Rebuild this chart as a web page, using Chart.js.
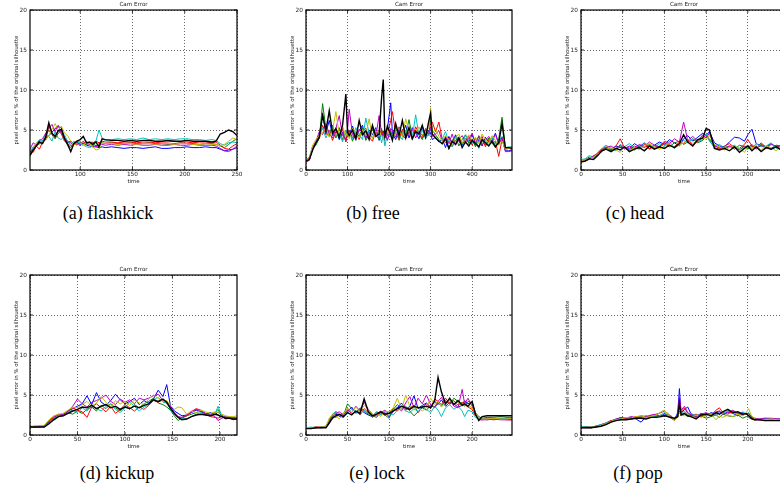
<!DOCTYPE html>
<html>
<head>
<meta charset="utf-8">
<script src="https://cdn.jsdelivr.net/npm/chart.js@4.4.1/dist/chart.umd.min.js"></script>
<style>
  html, body { margin: 0; padding: 0; background: #fff; }
  body { width: 780px; height: 498px; position: relative; overflow: hidden; }
  canvas { position: absolute; }
  .cap { position: absolute; transform: translate(-50%, -50%); white-space: nowrap;
         font-family: "Liberation Serif", "DejaVu Serif", serif; font-size: 18px; color: #000; }
</style>
</head>
<body>
<canvas id="pa" width="267" height="186" style="left:0px;top:0px"></canvas>
<canvas id="pb" width="266" height="186" style="left:276px;top:0px"></canvas>
<canvas id="pc" width="266" height="186" style="left:551px;top:0px"></canvas>
<canvas id="pd" width="267" height="186" style="left:0px;top:265px"></canvas>
<canvas id="pe" width="266" height="186" style="left:276px;top:265px"></canvas>
<canvas id="pf" width="266" height="186" style="left:551px;top:265px"></canvas>
<div class="cap" style="left:108px;top:213px">(a) flashkick</div>
<div class="cap" style="left:373px;top:213px">(b) free</div>
<div class="cap" style="left:635px;top:213px">(c) head</div>
<div class="cap" style="left:117px;top:473px">(d) kickup</div>
<div class="cap" style="left:377px;top:473px">(e) lock</div>
<div class="cap" style="left:638px;top:473px">(f) pop</div>
<script>
// ---- data (time -> pixel error %) ----

// (a) flashkick
const timeA = [52,55,58,61,64,67,70,73,76,79,82,85,88,91,94,97,100,103,106,109,112,115,118,121,124,130,136,142,148,154,160,166,172,178,184,190,196,202,208,214,220,226,230,234,238,242,246,250];
const blueA = [2.2,2.7,3.2,3.5,3.4,3.9,4.3,4.7,5.2,5.4,5.3,4.1,3.4,3.6,3.3,3.4,3.2,3.3,3.1,3.0,2.9,2.9,2.8,2.9,2.8,2.9,2.8,2.7,2.8,2.8,2.7,2.8,2.9,2.7,2.7,2.8,2.8,2.9,2.8,2.8,2.9,2.8,2.8,2.6,2.4,2.5,2.6,2.8];
const greenA = [1.7,2.4,3.0,3.3,3.6,4.2,5.0,4.4,3.9,4.6,4.9,4.0,3.1,2.8,3.4,3.6,3.3,3.6,3.2,3.4,3.5,3.0,3.3,3.4,3.3,3.4,3.3,3.3,3.4,3.3,3.3,3.4,3.3,3.3,3.2,3.3,3.4,3.3,3.3,3.2,3.3,3.3,3.2,3.0,2.8,3.2,3.6,3.9];
const redA = [2.4,2.2,3.0,2.6,3.5,3.8,5.5,4.6,4.0,5.0,4.5,3.6,3.3,3.0,3.4,3.1,3.5,3.3,3.6,3.2,3.4,3.6,3.4,3.6,3.5,3.5,3.4,3.5,3.5,3.4,3.5,3.5,3.4,3.5,3.5,3.6,3.5,3.5,3.4,3.5,3.5,3.4,3.5,3.1,2.7,2.6,3.0,3.3];
const cyanA = [2.3,2.9,3.3,3.8,3.6,4.5,4.2,3.6,4.8,4.0,3.8,4.4,3.5,3.2,3.6,3.3,3.6,3.1,2.9,2.8,3.0,3.6,5.0,4.0,3.7,3.8,3.9,3.8,3.9,3.8,4.0,3.8,3.9,3.8,3.9,3.8,3.9,3.9,3.8,3.8,3.7,3.8,3.7,3.3,3.1,3.4,3.5,3.4];
const magentaA = [2.6,3.4,3.1,3.7,3.9,4.6,5.2,5.7,4.8,5.6,4.6,4.0,3.6,3.4,3.2,3.5,3.0,3.4,3.3,3.2,3.1,2.9,3.1,3.2,3.1,3.2,3.1,3.2,3.1,3.2,3.1,3.1,3.2,3.1,3.1,3.2,3.1,3.1,3.2,3.1,3.1,3.1,3.0,2.7,2.4,2.3,2.6,3.0];
const yellowA = [2.1,2.6,3.4,3.2,3.5,3.7,4.3,5.1,5.8,5.0,5.5,4.6,4.3,3.6,3.1,3.7,3.4,3.0,3.5,3.3,2.9,2.5,2.6,3.4,3.3,3.3,3.2,3.3,3.3,3.2,3.3,3.3,3.2,3.3,3.3,3.2,3.3,3.3,3.2,3.2,3.3,3.2,3.2,3.0,3.2,3.6,4.0,3.8];
const blackA = [1.9,2.5,3.0,3.5,3.3,4.1,5.9,4.6,4.2,4.9,5.1,3.9,3.2,2.3,3.3,3.6,3.8,4.2,3.4,3.5,3.2,3.5,2.9,3.9,3.8,3.7,3.7,3.6,3.7,3.6,3.7,3.7,3.6,3.6,3.7,3.6,3.6,3.7,3.6,3.6,3.6,3.5,3.6,4.5,4.7,5.0,4.8,4.3];

// (b) free
const timeB = [0,8,16,24,32,40,48,56,64,72,80,88,96,100,104,112,120,128,136,144,152,160,168,176,182,186,190,196,204,208,216,224,232,240,248,256,264,272,280,288,296,300,304,312,320,328,336,344,352,360,368,376,384,392,400,408,416,424,432,440,448,456,464,472,480,488,496];
const blueB = [1.1,1.3,2.6,3.3,4.2,7.1,4.6,6.2,4.3,5.1,3.8,4.7,3.6,5.2,4.4,5.5,4.1,4.9,5.6,3.9,5.0,4.4,5.3,3.7,4.5,4.9,4.0,5.1,8.4,4.6,3.8,5.2,4.3,5.6,4.0,5.3,4.7,3.9,5.4,4.2,5.0,4.6,3.8,4.1,3.5,3.9,2.8,4.2,3.3,4.4,3.6,3.1,4.0,3.4,4.5,3.2,3.8,3.0,4.1,3.5,3.7,4.6,3.3,4.0,2.4,2.4,2.5];
const greenB = [1.2,1.4,2.9,3.1,4.0,8.3,5.1,4.2,5.6,4.0,5.3,3.8,4.6,4.1,5.0,3.6,4.8,4.2,5.3,3.7,4.4,5.1,4.3,3.9,5.2,4.1,4.6,3.8,4.9,4.2,5.5,3.7,4.8,4.4,6.3,4.1,5.0,4.5,3.8,4.9,4.3,6.4,5.0,4.4,3.8,3.2,4.1,2.6,3.7,4.2,3.0,3.8,4.4,3.3,3.9,2.9,4.3,3.6,3.1,4.0,3.4,2.8,3.9,6.6,2.7,2.8,2.9];
const redB = [1.1,1.5,2.7,3.5,3.9,5.6,4.4,5.0,3.7,4.8,4.3,5.2,3.5,4.5,5.0,4.0,4.7,3.8,4.9,5.2,4.1,3.6,4.8,4.4,5.0,4.2,4.8,4.3,6.2,7.3,4.5,3.9,5.1,4.2,4.8,3.8,5.4,4.6,4.0,5.2,4.7,5.8,6.0,4.8,6.0,3.8,3.4,4.0,2.9,3.7,4.1,3.3,3.6,4.2,3.1,3.9,3.5,4.2,2.9,3.8,3.3,3.6,1.7,3.8,2.6,2.7,2.6];
const cyanB = [1.3,1.6,3.0,3.2,4.5,5.2,4.0,4.9,5.4,4.2,4.7,3.5,5.0,4.3,4.6,3.9,5.3,4.5,3.8,6.5,4.6,4.0,5.1,4.8,3.4,4.4,3.0,4.6,4.1,3.9,4.9,4.4,3.8,5.0,4.5,4.1,6.9,4.3,5.0,3.9,4.6,5.2,4.4,4.0,3.6,3.9,4.8,3.5,2.9,4.1,3.7,3.2,4.4,3.6,3.4,4.0,2.7,3.9,3.5,3.2,4.1,3.0,3.6,4.2,2.8,2.9,2.8];
const magentaB = [1.0,1.2,2.8,3.6,4.8,4.4,5.8,4.5,4.0,5.2,6.8,4.3,3.9,5.0,7.6,4.4,3.8,5.1,4.7,4.0,4.6,5.3,4.2,6.8,4.6,4.3,4.8,3.7,5.2,4.9,4.1,5.4,4.4,3.9,4.7,5.1,4.0,4.8,4.3,5.0,4.5,5.4,4.2,4.5,4.9,3.6,4.2,3.3,4.5,3.1,3.8,4.3,3.5,3.9,4.6,3.4,4.2,3.1,3.7,4.2,3.5,4.5,3.2,4.1,2.3,2.3,2.4];
const yellowB = [1.2,1.4,3.1,3.8,4.3,4.7,5.3,4.1,5.0,7.3,4.4,5.5,4.2,4.8,3.9,5.2,4.6,4.0,5.0,4.4,6.4,3.9,4.7,5.0,4.2,3.9,4.5,5.0,4.4,4.0,4.7,5.2,4.1,6.4,4.9,4.3,4.7,5.4,4.4,4.8,5.3,7.8,4.6,5.1,4.2,3.7,4.3,3.8,3.2,4.0,4.5,3.4,3.9,4.4,3.6,4.1,3.3,4.5,3.8,3.4,4.3,3.7,3.1,3.6,2.6,2.7,2.7];
const blackB = [1.1,1.3,2.5,3.4,4.1,6.8,4.9,7.4,4.6,5.2,4.1,5.6,9.5,4.7,4.3,5.0,3.9,6.2,4.4,4.9,3.8,5.6,4.2,4.5,9.0,11.3,4.2,5.5,4.4,3.7,5.8,4.3,6.2,4.0,5.3,3.9,4.8,4.5,5.6,4.1,6.2,7.1,4.5,4.0,3.6,3.3,3.9,2.7,3.6,3.2,4.0,2.8,3.5,3.0,3.7,3.3,2.9,3.8,3.4,3.0,3.6,2.9,3.4,5.8,2.8,2.8,2.7];

// (c) head
const timeC = [0,5,10,15,20,25,30,36,42,47,52,58,64,70,76,82,88,94,100,106,112,118,123,128,134,140,146,150,154,160,166,172,178,184,190,196,200,205,210,216,222,228,234,240,247];
const blueC = [1.1,1.3,1.6,1.5,2.0,2.4,2.7,2.6,3.0,2.8,2.9,2.6,3.3,2.9,3.4,2.7,3.1,3.5,3.2,3.8,3.4,3.0,3.9,4.3,3.6,4.1,4.6,4.3,4.8,3.4,3.0,2.9,3.5,4.1,4.0,3.6,4.4,5.1,3.3,3.0,2.9,3.3,2.8,3.1,3.0];
const greenC = [1.0,1.2,1.5,1.7,1.9,2.5,2.8,2.4,2.7,3.0,2.6,2.9,2.5,3.1,2.8,3.2,2.7,3.0,3.3,2.9,3.4,3.6,3.2,3.5,3.9,3.4,3.7,4.2,3.9,3.1,2.7,2.8,3.0,2.6,3.1,2.9,2.6,3.0,2.8,3.2,2.9,2.7,3.1,3.0,3.3];
const redC = [1.2,1.1,1.4,1.7,2.1,2.6,2.9,2.5,3.0,3.9,2.8,2.5,3.0,2.7,3.2,2.6,3.0,2.8,3.4,3.1,2.9,3.5,3.3,3.8,3.1,3.6,4.0,4.4,3.7,2.8,2.6,3.0,3.3,2.8,2.7,3.2,3.8,3.0,2.7,3.4,2.8,2.6,3.0,2.9,3.1];
const cyanC = [1.3,1.4,1.8,1.6,2.2,2.7,3.1,2.7,2.4,3.2,2.9,3.3,2.8,2.6,3.4,3.0,2.8,3.3,2.9,3.6,2.7,3.2,3.7,3.4,3.9,3.5,3.8,4.5,3.6,2.9,3.2,2.7,2.9,3.1,2.6,2.8,3.1,2.7,3.3,2.9,3.0,3.4,2.7,3.0,2.8];
const magentaC = [1.0,1.2,1.4,1.8,2.0,2.3,2.8,3.0,2.6,3.1,2.7,3.0,2.7,3.2,2.9,3.5,3.1,2.9,3.6,3.3,3.9,3.5,6.0,3.7,4.2,3.6,4.4,4.0,4.6,3.0,2.8,2.6,3.0,2.8,2.5,3.0,2.8,3.2,2.6,3.1,2.7,3.2,3.0,2.6,2.9];
const yellowC = [1.1,1.3,1.5,1.6,2.0,2.3,2.6,2.8,2.5,2.2,2.9,2.4,2.8,2.6,3.0,3.3,2.9,2.6,3.0,3.4,2.8,3.1,3.4,3.9,3.3,3.7,4.1,3.8,4.3,3.2,2.9,2.5,2.8,3.0,2.7,2.2,2.9,2.6,3.1,2.5,3.0,2.8,2.4,2.9,3.0];
const blackC = [1.0,1.1,1.4,1.3,1.8,2.4,2.6,2.3,2.7,2.5,2.9,2.3,2.6,2.8,2.4,3.0,2.6,2.9,2.7,3.1,2.8,3.3,4.4,3.5,3.0,3.8,4.0,5.2,5.0,2.7,2.5,2.7,2.4,2.9,2.2,2.7,3.0,2.4,2.9,2.3,2.8,2.6,2.9,2.5,2.8];

// (d) kickup
const timeD = [0,5,10,15,20,25,30,35,40,45,50,55,60,65,70,75,80,85,90,95,100,105,110,115,120,125,130,135,140,144,148,152,156,160,165,170,175,180,185,190,195,198,202,206,210,214,218];
const blueD = [1.0,1.0,1.1,1.1,1.6,2.0,2.4,2.6,3.0,3.3,3.6,3.9,4.9,3.8,5.3,4.1,3.7,4.3,5.1,4.4,3.9,4.2,4.6,3.8,4.3,4.0,4.5,5.6,4.8,6.3,3.6,3.0,2.7,2.4,2.5,2.8,3.1,2.9,2.6,2.8,2.5,2.9,2.4,2.2,2.1,2.2,2.1];
const greenD = [1.0,1.1,1.0,1.1,1.5,2.1,2.3,2.5,2.8,2.6,3.0,2.7,3.2,3.5,3.0,3.7,3.3,3.9,3.4,3.0,3.6,3.2,3.8,3.4,3.9,4.2,4.6,4.0,3.8,3.5,3.1,2.4,1.8,2.2,2.4,2.6,2.8,3.0,2.7,2.5,2.8,3.2,2.4,2.3,2.2,2.2,2.2];
const redD = [1.1,1.0,1.0,1.2,1.7,2.2,2.5,2.4,2.9,3.4,3.1,2.9,2.2,3.5,3.9,3.4,2.9,3.6,2.7,3.2,3.8,3.4,3.0,3.5,3.2,3.7,4.3,4.1,4.4,3.9,3.4,2.6,2.2,2.1,2.4,2.9,3.3,3.1,2.6,2.3,2.2,2.1,2.3,2.0,2.1,1.9,2.0];
const cyanD = [1.0,1.1,1.1,1.0,1.5,2.0,2.4,2.7,2.9,3.1,2.8,3.4,3.0,3.7,3.3,3.0,3.6,3.9,3.2,2.8,3.4,4.1,3.6,3.0,3.5,3.8,4.4,4.7,4.1,4.0,3.2,2.5,2.3,2.1,2.0,2.3,2.6,2.8,2.5,2.4,2.6,3.6,2.4,2.2,2.3,2.1,2.2];
const magentaD = [1.1,1.0,1.1,1.1,1.8,2.3,2.6,2.5,3.0,3.6,4.5,3.9,3.5,4.1,4.3,4.6,5.0,4.2,3.8,4.5,4.1,4.4,3.9,4.6,4.4,4.6,4.9,5.1,4.3,4.2,3.5,2.8,2.3,2.2,2.5,2.9,3.2,3.0,2.7,2.6,2.3,1.8,2.1,2.3,2.2,2.1,2.1];
const yellowD = [1.1,1.1,1.2,1.2,1.9,2.4,2.6,2.7,3.1,3.5,3.4,3.8,4.2,3.6,4.0,4.8,4.1,3.5,4.3,3.9,4.2,3.7,4.4,4.0,3.8,4.5,5.0,4.6,4.2,4.3,3.7,3.2,3.5,3.4,2.6,3.0,2.8,3.1,2.9,2.7,2.9,2.8,2.6,2.4,2.3,2.3,2.4];
const blackD = [1.0,1.0,1.0,1.0,1.4,1.9,2.3,2.4,2.7,3.0,3.2,3.5,3.4,3.7,3.3,3.6,3.8,3.4,3.6,3.2,3.5,3.3,3.6,3.4,3.7,3.9,4.4,4.2,4.5,4.1,3.3,2.7,2.2,1.9,2.0,2.3,2.5,2.6,2.5,2.4,2.6,2.5,2.3,2.1,2.1,2.0,2.0];

// (e) lock
const timeE = [0,6,12,18,24,28,32,36,40,45,50,55,60,65,70,75,80,85,90,95,100,105,110,115,120,125,130,135,140,145,150,155,159,163,168,173,178,183,188,191,195,200,204,208,212,218,226,234,242,248];
const blueE = [0.9,0.9,0.9,1.0,1.0,1.7,2.3,2.6,2.4,2.2,2.9,3.5,2.7,3.2,2.8,2.5,2.3,2.9,2.6,2.8,2.3,2.9,3.4,4.0,3.2,3.6,4.9,3.3,3.7,4.0,3.5,4.2,3.8,4.4,3.6,4.1,3.9,3.5,3.7,4.3,3.9,4.1,2.6,2.1,2.0,2.0,2.0,2.1,2.0,2.0];
const greenE = [0.9,0.9,1.0,0.9,1.0,1.8,2.4,2.2,2.6,2.4,3.9,3.3,2.8,3.4,3.0,2.6,2.4,2.2,2.9,2.5,2.1,3.2,3.8,3.3,3.6,3.0,2.4,2.9,3.4,3.1,3.7,3.4,4.0,3.6,4.3,3.8,4.6,4.2,3.9,3.6,4.2,4.0,2.8,2.3,2.1,2.2,2.2,2.3,2.2,2.2];
const redE = [0.9,0.9,1.0,1.0,1.1,1.9,2.6,2.8,2.3,2.7,3.3,2.6,3.0,2.5,3.3,2.8,2.2,2.6,3.0,2.4,2.8,3.3,3.0,3.6,3.1,3.4,3.7,2.8,3.5,3.9,3.3,4.5,4.2,3.8,4.6,3.9,4.3,3.7,4.1,3.8,3.5,3.2,2.4,2.0,1.9,2.0,1.9,2.0,1.9,1.9];
const cyanE = [0.9,1.0,0.9,1.0,1.0,2.0,2.5,3.0,2.5,2.3,2.7,3.2,2.9,2.6,3.1,2.7,2.4,2.8,2.5,3.0,2.7,2.5,3.1,3.5,3.0,2.8,3.3,2.9,3.6,3.2,2.8,3.6,3.1,2.3,3.4,3.8,3.2,3.6,3.0,2.3,3.1,2.9,2.2,2.0,2.0,1.9,2.0,2.0,2.1,2.0];
const magentaE = [0.8,0.9,0.9,0.9,1.0,1.6,2.2,2.7,2.9,2.5,3.1,2.8,3.6,3.0,4.1,3.2,2.6,2.4,2.8,3.1,2.6,2.9,3.5,3.0,4.0,4.8,3.4,4.6,3.9,5.0,3.8,3.5,4.2,4.7,3.9,4.4,3.6,3.4,5.7,3.9,4.6,3.6,2.5,1.9,1.9,1.9,2.0,1.9,1.9,1.9];
const yellowE = [0.9,0.9,0.9,1.0,1.0,2.1,2.6,2.4,2.0,2.6,3.4,2.8,3.5,2.9,3.7,3.2,2.5,2.7,2.3,3.0,2.9,3.4,4.6,3.2,5.0,3.6,3.1,3.5,3.0,3.4,4.6,3.8,4.2,3.5,4.0,4.5,3.8,4.1,3.6,4.0,3.7,3.4,2.7,2.1,2.0,2.0,2.1,2.0,2.0,2.1];
const blackE = [0.8,0.8,0.9,0.9,0.9,1.5,2.1,2.4,2.6,2.3,2.8,2.5,3.0,2.7,4.5,2.9,2.4,2.6,2.9,2.6,2.7,3.0,3.3,3.6,3.4,3.2,3.6,3.4,3.5,3.6,3.4,4.3,7.2,5.4,3.9,4.6,3.8,4.3,3.7,3.9,3.6,4.2,2.6,1.8,2.3,2.4,2.4,2.4,2.4,2.4];

// (f) pop
const timeF = [0,6,12,18,24,30,36,42,48,54,60,66,72,78,84,90,96,100,104,108,112,116,118,120,124,128,132,138,144,150,156,162,166,170,176,182,188,194,198,201,204,208,214,220,228,236,247];
const blueF = [1.0,1.0,0.9,1.1,1.3,1.5,1.8,1.9,2.1,2.0,2.2,2.0,1.6,2.3,2.2,2.5,2.4,2.6,2.3,2.1,1.9,2.8,5.8,2.7,3.2,3.5,2.6,2.3,2.7,2.4,2.8,2.6,3.0,2.5,2.9,2.7,2.4,2.8,2.6,2.4,2.2,2.0,1.9,2.0,1.9,2.0,1.9];
const greenF = [0.9,1.0,1.0,1.0,1.2,1.4,1.7,2.0,1.9,2.1,2.2,2.1,2.3,2.2,2.4,2.3,2.5,2.4,2.6,2.3,2.0,2.2,3.0,2.4,2.6,2.3,2.5,2.2,2.4,2.1,2.3,2.5,2.2,2.6,2.4,2.3,2.5,2.1,2.3,2.2,2.0,1.9,2.0,1.9,2.0,1.9,1.9];
const redF = [1.0,1.0,1.0,1.1,1.2,1.5,1.8,1.9,2.2,2.0,2.1,2.3,2.2,2.4,2.2,2.6,2.3,2.7,2.4,2.2,1.8,2.4,3.6,2.9,3.4,2.7,2.4,2.6,2.3,2.7,2.5,3.1,3.4,2.8,2.6,3.0,2.7,2.5,2.7,2.5,2.1,1.9,1.9,1.9,1.9,2.0,1.9];
const cyanF = [1.1,1.0,1.0,1.1,1.3,1.5,1.7,2.0,2.1,2.2,2.0,2.1,2.3,2.1,2.4,2.2,2.5,2.8,2.5,2.4,2.0,2.5,3.5,2.6,3.0,2.5,2.7,2.4,2.6,2.5,2.7,2.4,2.8,2.6,3.1,2.8,2.6,2.9,2.6,2.8,2.3,2.1,2.0,2.1,2.0,2.0,2.0];
const magentaF = [0.9,0.9,0.9,1.0,1.2,1.4,1.6,2.0,2.2,2.1,2.3,2.2,2.4,2.3,2.5,2.6,2.8,3.0,2.7,2.3,1.9,2.6,4.8,3.1,3.6,2.8,2.5,2.3,2.6,2.8,2.5,2.9,3.0,2.6,2.8,3.1,2.7,2.5,2.6,2.7,2.3,2.1,2.0,2.1,2.1,2.0,2.0];
const yellowF = [1.0,0.9,1.0,1.0,1.2,1.4,1.7,1.9,2.0,2.2,2.1,2.3,2.4,2.2,2.3,2.5,2.9,3.1,2.6,2.2,1.8,2.3,2.8,2.5,2.4,2.6,2.2,2.5,2.2,2.4,2.6,1.9,2.4,2.2,2.5,2.3,2.6,2.4,2.8,3.3,2.5,2.0,1.9,1.9,2.0,1.9,1.9];
const blackF = [0.9,0.9,0.9,1.0,1.1,1.3,1.6,1.8,1.9,1.9,2.0,2.1,2.1,2.0,2.2,2.2,2.3,2.4,2.3,2.2,2.1,2.3,4.0,2.5,2.7,2.4,2.3,2.0,2.5,2.6,2.4,2.8,2.6,2.9,3.2,2.8,2.9,2.6,2.7,2.4,2.1,1.9,1.9,1.8,1.8,1.8,1.8];

// axis ticks
const yTicks = [0, 5, 10, 15, 20];
const xTicksA = [100, 150, 200, 250];
const xTicksB = [0, 100, 200, 300, 400];
const xTicks50 = [0, 50, 100, 150, 200];

// matplotlib "classic" colour cycle b g r c m y k
const lineColors = ['#0000ff', '#008000', '#ff0000', '#00bfbf', '#bf00bf', '#bfbf00', '#000000'];
const txt = '#222';
const fam = 'DejaVu Sans';

// frame with inward tick marks, like the old matplotlib axes
const framePlugin = {
  id: 'frame',
  afterDatasetsDraw(chart) {
    const { ctx, chartArea: a, scales } = chart;
    ctx.save();
    ctx.strokeStyle = '#000';
    ctx.lineWidth = 0.8;
    ctx.beginPath();
    scales.x.ticks.forEach(t => {
      const p = scales.x.getPixelForValue(t.value);
      ctx.moveTo(p, a.bottom); ctx.lineTo(p, a.bottom - 3);
      ctx.moveTo(p, a.top); ctx.lineTo(p, a.top + 3);
    });
    scales.y.ticks.forEach(t => {
      const p = scales.y.getPixelForValue(t.value);
      ctx.moveTo(a.left, p); ctx.lineTo(a.left + 3, p);
      ctx.moveTo(a.right, p); ctx.lineTo(a.right - 3, p);
    });
    ctx.stroke();
    ctx.lineWidth = 1.2;
    ctx.strokeRect(a.left, a.top, a.width, a.height);
    ctx.restore();
  }
};

function drawPanel(id, xs, series, xMin, xMax, xTicks) {
  const datasets = series.map((vals, i) => ({
    data: vals.map((v, j) => ({ x: xs[j], y: v })),
    borderColor: lineColors[i],
    borderWidth: i === 6 ? 1.4 : 1.0,
    pointRadius: 0,
    tension: 0,
    fill: false,
    order: 6 - i
  }));
  new Chart(document.getElementById(id), {
    type: 'line',
    data: { datasets: datasets },
    plugins: [framePlugin],
    options: {
      responsive: false,
      animation: false,
      events: [],
      layout: { padding: 0 },
      plugins: {
        legend: { display: false },
        tooltip: { enabled: false },
        title: {
          display: true,
          text: 'Cam Error',
          color: txt,
          font: { family: fam, size: 5.6, weight: 'normal' },
          padding: { top: 1.6, bottom: 1.7 }
        }
      },
      scales: {
        x: {
          type: 'linear',
          min: xMin,
          max: xMax,
          afterBuildTicks: s => { s.ticks = xTicks.map(v => ({ value: v })); },
          afterFit: s => { s.height = 16; },
          ticks: { color: txt, font: { family: fam, size: 5.8 }, padding: 1, maxRotation: 0, autoSkip: false },
          grid: { color: '#000', lineWidth: 0.6, drawTicks: false },
          border: { display: false, dash: [1, 2] },
          title: { display: true, text: 'time', color: txt, font: { family: fam, size: 5.4 }, padding: { top: 0, bottom: 1.5 } }
        },
        y: {
          min: 0,
          max: 20,
          afterBuildTicks: s => { s.ticks = yTicks.map(v => ({ value: v })); },
          afterFit: s => { s.width = 30; },
          ticks: { color: txt, font: { family: fam, size: 5.8 }, padding: 3 },
          grid: { color: '#000', lineWidth: 0.6, drawTicks: false },
          border: { display: false, dash: [1, 2] },
          title: { display: true, text: 'pixel error in % of the original silhouette', color: txt,
                   font: { family: fam, size: 5.4 }, padding: { top: 13.3, bottom: 0 } }
        },
        yR: {
          type: 'linear',
          position: 'right',
          afterFit: s => { s.width = 30; },
          ticks: { display: false },
          grid: { display: false, drawTicks: false },
          border: { display: false }
        }
      }
    }
  });
}

drawPanel('pa', timeA, [blueA, greenA, redA, cyanA, magentaA, yellowA, blackA], 52, 250, xTicksA);
drawPanel('pb', timeB, [blueB, greenB, redB, cyanB, magentaB, yellowB, blackB], 0, 496, xTicksB);
drawPanel('pc', timeC, [blueC, greenC, redC, cyanC, magentaC, yellowC, blackC], 0, 247, xTicks50);
drawPanel('pd', timeD, [blueD, greenD, redD, cyanD, magentaD, yellowD, blackD], 0, 218, xTicks50);
drawPanel('pe', timeE, [blueE, greenE, redE, cyanE, magentaE, yellowE, blackE], 0, 248, xTicks50);
drawPanel('pf', timeF, [blueF, greenF, redF, cyanF, magentaF, yellowF, blackF], 0, 247, xTicks50);
</script>
</body>
</html>
